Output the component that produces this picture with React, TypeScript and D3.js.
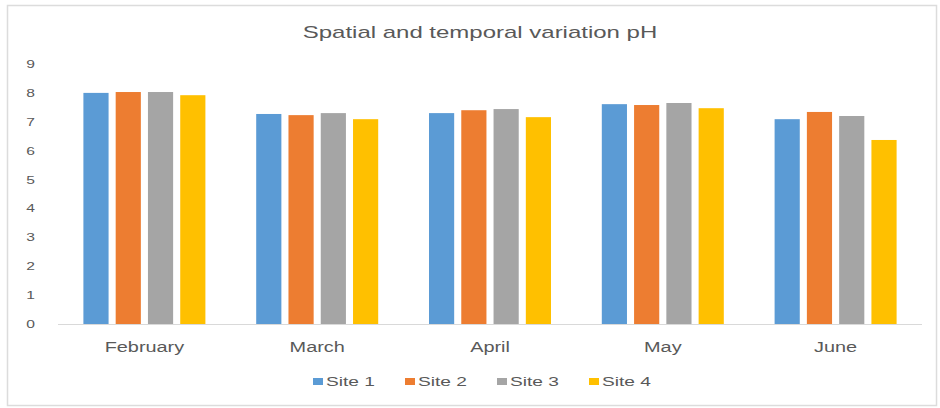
import React from "react";
import * as d3 from "d3";

const categories = ["February", "March", "April", "May", "June"];
const sites = ["Site 1", "Site 2", "Site 3", "Site 4"];
const site1 = [8.0, 7.27, 7.3, 7.61, 7.09];
const site2 = [8.03, 7.23, 7.4, 7.58, 7.34];
const site3 = [8.03, 7.3, 7.44, 7.65, 7.2];
const site4 = [7.92, 7.09, 7.16, 7.47, 6.37];
const yTicks = [0, 1, 2, 3, 4, 5, 6, 7, 8, 9];
const title = "Spatial and temporal variation pH";

const seriesValues = [site1, site2, site3, site4];
const colors = ["#5B9BD5", "#ED7D31", "#A5A5A5", "#FFC000"];

const W = 940;
const H = 408;
const plot = { left: 58, right: 922, top: 64, bottom: 324 };
const SX = 1.42; // horizontal text stretch
const textColor = "#595959";

function StretchText(props: {
  x: number;
  y: number;
  anchor?: "start" | "middle" | "end";
  size: number;
  sx?: number;
  children: React.ReactNode;
  fill?: string;
}) {
  return (
    <text
      transform={`translate(${props.x},${props.y}) scale(${props.sx ?? SX},1)`}
      textAnchor={props.anchor ?? "start"}
      fontSize={props.size}
      fontFamily="'Liberation Sans', Arial, sans-serif"
      fill={props.fill ?? textColor}
    >
      {props.children}
    </text>
  );
}

export default function App() {
  const x0 = d3.scaleBand<string>().domain(categories).range([plot.left, plot.right]).padding(0);
  const groupWidth = 122;
  const groupOffset = (x0.bandwidth() - groupWidth) / 2;
  const x1 = d3.scaleBand<string>().domain(sites).range([0, groupWidth]).paddingInner(0.22);
  const y = d3.scaleLinear().domain([0, 9]).range([plot.bottom, plot.top]);

  const legendX = d3.scaleBand<string>().domain(sites).range([313, 681]);

  return (
    <svg
      width={W}
      height={H}
      style={{ position: "fixed", left: 0, top: 0, display: "block", background: "#fff" }}
    >
      <rect x={7.5} y={5.5} width={929} height={400} fill="#fff" stroke="#dcdcdc" strokeWidth={1.5} />

      <StretchText x={480} y={38} anchor="middle" size={16} sx={1.5}>
        {title}
      </StretchText>

      {yTicks.map((t) => (
        <StretchText key={t} x={35} y={y(t) + 4} anchor="end" size={11}>
          {t}
        </StretchText>
      ))}

      {categories.map((c, ci) => (
        <g key={c} transform={`translate(${(x0(c) ?? 0) + groupOffset},0)`}>
          {sites.map((s, si) => {
            const v = seriesValues[si][ci];
            return (
              <rect
                key={s}
                x={x1(s)}
                y={y(v)}
                width={x1.bandwidth()}
                height={y(0) - y(v)}
                fill={colors[si]}
              />
            );
          })}
        </g>
      ))}

      <line x1={plot.left} x2={plot.right} y1={plot.bottom + 0.5} y2={plot.bottom + 0.5} stroke="#d9d9d9" strokeWidth={1} />

      {categories.map((c) => (
        <StretchText key={c} x={(x0(c) ?? 0) + x0.bandwidth() / 2} y={352} anchor="middle" size={14}>
          {c}
        </StretchText>
      ))}

      {sites.map((s, si) => {
        const lx = legendX(s) ?? 0;
        return (
          <g key={s}>
            <rect x={lx} y={378} width={10} height={7} fill={colors[si]} />
            <StretchText x={lx + 13} y={386} size={13.5}>
              {s}
            </StretchText>
          </g>
        );
      })}
    </svg>
  );
}
